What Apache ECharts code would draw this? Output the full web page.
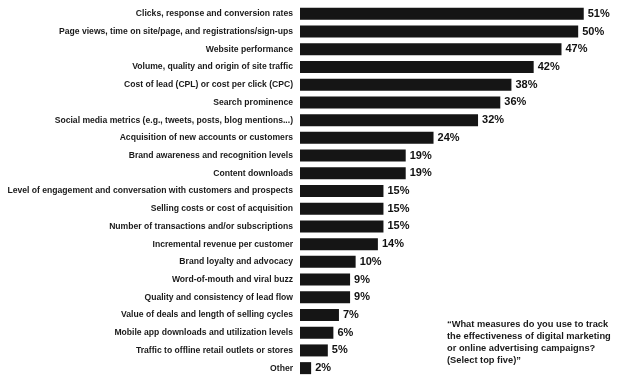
<!DOCTYPE html>
<html>
<head>
<meta charset="utf-8">
<script src="https://cdn.jsdelivr.net/npm/echarts@6/dist/echarts.min.js"></script>
<style>
  html, body { margin: 0; padding: 0; background: #fff; }
  #chart { width: 619px; height: 378px; }
</style>
</head>
<body>
<div id="chart"></div>
<script>
// Measures used to track digital marketing effectiveness (% of respondents)
const categories = [
  "Clicks, response and conversion rates",
  "Page views, time on site/page, and registrations/sign-ups",
  "Website performance",
  "Volume, quality and origin of site traffic",
  "Cost of lead (CPL) or cost per click (CPC)",
  "Search prominence",
  "Social media metrics (e.g., tweets, posts, blog mentions...)",
  "Acquisition of new accounts or customers",
  "Brand awareness and recognition levels",
  "Content downloads",
  "Level of engagement and conversation with customers and prospects",
  "Selling costs or cost of acquisition",
  "Number of transactions and/or subscriptions",
  "Incremental revenue per customer",
  "Brand loyalty and advocacy",
  "Word-of-mouth and viral buzz",
  "Quality and consistency of lead flow",
  "Value of deals and length of selling cycles",
  "Mobile app downloads and utilization levels",
  "Traffic to offline retail outlets or stores",
  "Other"
];
const values = [51, 50, 47, 42, 38, 36, 32, 24, 19, 19, 15, 15, 15, 14, 10, 9, 9, 7, 6, 5, 2];
const noteLines = [
  "\u201CWhat measures do you use to track",
  "the effectiveness of digital marketing",
  "or online advertising campaigns?",
  "(Select top five)\u201D"
];

const chart = echarts.init(document.getElementById("chart"), null, { renderer: "canvas" });
chart.setOption({
  animation: false,
  backgroundColor: "#ffffff",
  grid: { left: 300, right: 13, top: 5, bottom: 1 },
  xAxis: {
    type: "value",
    min: 0,
    max: 55,
    show: false
  },
  yAxis: {
    type: "category",
    data: categories,
    inverse: true,
    axisLine: { show: false },
    axisTick: { show: false },
    axisLabel: {
      margin: 7,
      color: "#1a1a1a",
      fontFamily: "Liberation Sans",
      fontWeight: "bold",
      fontSize: 8.6
    }
  },
  series: [{
    type: "bar",
    data: values,
    barWidth: 12,
    itemStyle: { color: "#151515" },
    label: {
      show: true,
      position: "right",
      distance: 4,
      formatter: "{c}%",
      color: "#111",
      fontFamily: "Liberation Sans",
      fontWeight: "bold",
      fontSize: 11
    }
  }],
  graphic: [{
    type: "text",
    left: 447,
    top: 318,
    style: {
      text: noteLines.join("\n"),
      fill: "#1a1a1a",
      font: "bold 9.3px 'Liberation Sans'",
      lineHeight: 12
    }
  }]
});
</script>
</body>
</html>
